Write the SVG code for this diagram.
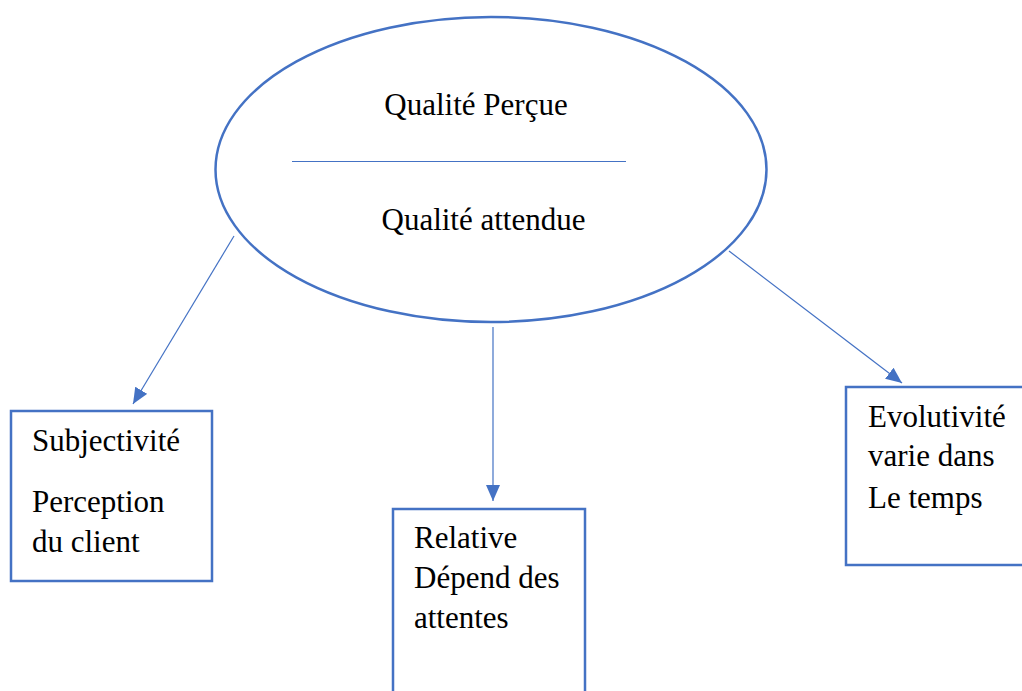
<svg xmlns="http://www.w3.org/2000/svg" width="1022" height="691" viewBox="0 0 1022 691">
  <style>
    .shape { fill: #ffffff; stroke: #4472C4; stroke-width: 2.5; }
    .sep { stroke: #4472C4; stroke-width: 1.2; }
    .conn { stroke: #4472C4; stroke-width: 1.2; fill: none; }
    .t { font-family: 'Liberation Serif', 'Times New Roman', Tinos, 'DejaVu Serif', serif; font-size: 31px; fill: #000000; }
  </style>
  <defs>
    <marker id="arrow" markerUnits="userSpaceOnUse" markerWidth="16" markerHeight="14" viewBox="0 0 16 14" refX="16" refY="7" orient="auto">
      <path d="M0,0 L16,7 L0,14 Z" fill="#4472C4"/>
    </marker>
  </defs>
  <rect width="1022" height="691" fill="#ffffff"/>
  <g id="connectors">
    <line class="conn" x1="234" y1="236" x2="133" y2="404" marker-end="url(#arrow)"/>
    <line class="conn" x1="493" y1="327" x2="493" y2="501" marker-end="url(#arrow)"/>
    <line class="conn" x1="729" y1="251" x2="902" y2="383" marker-end="url(#arrow)"/>
  </g>
  <g id="node-qualite">
    <ellipse class="shape" cx="491" cy="169.5" rx="275.5" ry="152.5"/>
    <line class="sep" x1="292" y1="161.5" x2="626" y2="161.5"/>
    <text class="t" x="476" y="115" text-anchor="middle" font-family="Liberation Serif, serif">Qualité Perçue</text>
    <text class="t" x="483.5" y="230" text-anchor="middle">Qualité attendue</text>
  </g>
  <g id="node-subjectivite">
    <rect class="shape" x="11" y="411" width="201" height="170"/>
    <text class="t" x="32" y="451">Subjectivité</text>
    <text class="t" x="32" y="512">Perception</text>
    <text class="t" x="32" y="552">du client</text>
  </g>
  <g id="node-relative">
    <rect class="shape" x="393" y="509" width="192" height="200"/>
    <text class="t" x="414" y="548">Relative</text>
    <text class="t" x="414" y="588">Dépend des</text>
    <text class="t" x="414" y="628">attentes</text>
  </g>
  <g id="node-evolutivite">
    <rect class="shape" x="846" y="387" width="190" height="178"/>
    <text class="t" x="868" y="427">Evolutivité</text>
    <text class="t" x="868" y="466">varie dans</text>
    <text class="t" x="868" y="508">Le temps</text>
  </g>
</svg>
